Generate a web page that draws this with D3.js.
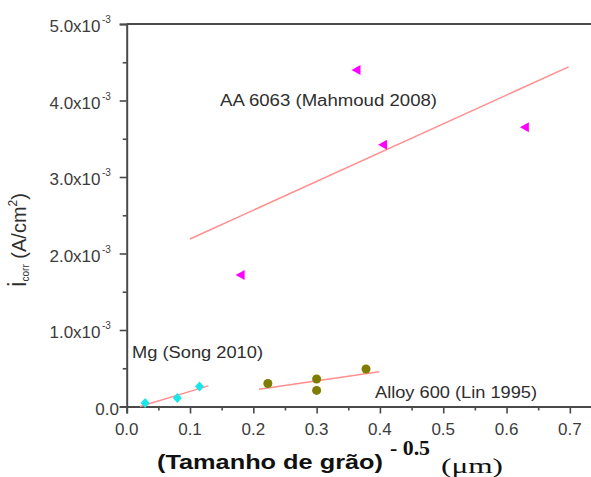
<!DOCTYPE html>
<html lang="pt">
<head>
<meta charset="UTF-8">
<title>icorr vs tamanho de grão</title>
<script src="https://d3js.org/d3.v7.min.js"></script>
<style>
  body { margin: 0; background: #fff; }
  svg { display: block; }
</style>
</head>
<body>
<div id="chart"></div>
<script>
// values
const mgX = [0.029, 0.080, 0.115];
const mgY = [0.045e-3, 0.11e-3, 0.26e-3];
const alloyX = [0.223, 0.300, 0.300, 0.378];
const alloyY = [0.30e-3, 0.36e-3, 0.21e-3, 0.49e-3];
const aaX = [0.180, 0.363, 0.405, 0.629];
const aaY = [1.72e-3, 4.40e-3, 3.42e-3, 3.65e-3];

// linear fits (end points)
const mgFitX = [0.021, 0.129], mgFitY = [0.0, 0.27e-3];
const alloyFitX = [0.209, 0.399], alloyFitY = [0.225e-3, 0.455e-3];
const aaFitX = [0.100, 0.698], aaFitY = [2.19e-3, 4.44e-3];

const xTicks = [0, 0.1, 0.2, 0.3, 0.4, 0.5, 0.6, 0.7];
const xTickLabels = ["0.0", "0.1", "0.2", "0.3", "0.4", "0.5", "0.6", "0.7"];
const yTicks = [0, 1e-3, 2e-3, 3e-3, 4e-3, 5e-3];
const yTickLabels = ["0.0", "1.0x10", "2.0x10", "3.0x10", "4.0x10", "5.0x10"];

const W = 591, H = 477;
const svg = d3.select("#chart").append("svg").attr("width", W).attr("height", H);

const x = d3.scaleLinear().domain([0, 0.75]).range([126.7, 601.5]);
const y = d3.scaleLinear().domain([0, 5e-3]).range([406.5, 24]);

const axisColor = "#4a4a4a";
const textColor = "#3c3c3c";

// frame: left, bottom, top
svg.append("line").attr("x1", x(0)).attr("x2", W + 5).attr("y1", y(5e-3)).attr("y2", y(5e-3))
  .attr("stroke", axisColor).attr("stroke-width", 2);

const xAxis = svg.append("g").attr("transform", `translate(0,${y(0)})`)
  .call(d3.axisBottom(x).tickValues(d3.range(0, 0.751, 0.05)).tickSize(7).tickFormat(""));
const yAxis = svg.append("g").attr("transform", `translate(${x(0)},0)`)
  .call(d3.axisLeft(y).tickValues(d3.range(0, 5.01e-3, 0.5e-3)).tickSize(7).tickFormat(""));

[xAxis, yAxis].forEach(a => {
  a.select(".domain").attr("stroke", axisColor).attr("stroke-width", 2);
  a.selectAll(".tick line").attr("stroke", axisColor).attr("stroke-width", 1.6);
});
// minor ticks shorter
xAxis.selectAll(".tick line").filter(d => Math.round(d * 20) % 2 === 1).attr("y2", 4);
yAxis.selectAll(".tick line").filter(d => Math.round(d * 2000) % 2 === 1).attr("x2", -4);

// tick labels
svg.append("g").selectAll("text").data(xTicks).join("text")
  .attr("x", d => x(d)).attr("y", 435)
  .attr("text-anchor", "middle")
  .attr("font-family", "Liberation Sans, Arial, sans-serif")
  .attr("font-size", 17).attr("fill", textColor)
  .text((d, i) => xTickLabels[i]);

const yl = svg.append("g").selectAll("text").data(yTicks).join("text")
  .attr("x", d => d === 0 ? 119 : 100.5).attr("y", d => y(d) + 8)
  .attr("text-anchor", "end")
  .attr("font-family", "Liberation Sans, Arial, sans-serif")
  .attr("font-size", 17).attr("fill", textColor);
yl.append("tspan").text((d, i) => yTickLabels[i]);
yl.filter(d => d !== 0).append("tspan")
  .attr("x", 102).attr("dy", -9).attr("text-anchor", "start")
  .attr("font-size", 10).text("-3");

// fit lines
const fitLine = d3.line().x(d => x(d[0])).y(d => y(d[1]));
[[mgFitX, mgFitY], [alloyFitX, alloyFitY], [aaFitX, aaFitY]].forEach(([fx, fy]) => {
  svg.append("path").datum(d3.zip(fx, fy)).attr("d", fitLine)
    .attr("fill", "none").attr("stroke", "#ff8f8f").attr("stroke-width", 1.5);
});

// markers
svg.append("g").selectAll("path").data(d3.zip(aaX, aaY)).join("path")
  .attr("d", "M-5,0L4,-5L4,5Z")
  .attr("transform", d => `translate(${x(d[0])},${y(d[1])})`)
  .attr("fill", "#ff00ff");

svg.append("g").selectAll("path").data(d3.zip(mgX, mgY)).join("path")
  .attr("d", "M0,-5L4.5,0L0,5L-4.5,0Z")
  .attr("transform", d => `translate(${x(d[0])},${y(d[1])})`)
  .attr("fill", "#19e6e6");

svg.append("g").selectAll("circle").data(d3.zip(alloyX, alloyY)).join("circle")
  .attr("cx", d => x(d[0])).attr("cy", d => y(d[1])).attr("r", 4.5)
  .attr("fill", "#7f7d00");

// annotations
const ann = [
  { t: "AA 6063 (Mahmoud 2008)", x: 220, y: 106, w: 217 },
  { t: "Mg (Song 2010)", x: 132, y: 358, w: 131 },
  { t: "Alloy 600 (Lin 1995)", x: 375, y: 398, w: 162 }
];
svg.append("g").selectAll("text").data(ann).join("text")
  .attr("x", d => d.x).attr("y", d => d.y)
  .attr("font-family", "Liberation Sans, Arial, sans-serif")
  .attr("font-size", 16).attr("fill", "#2e2e2e")
  .attr("textLength", d => d.w).attr("lengthAdjust", "spacingAndGlyphs")
  .text(d => d.t);

// x axis title
svg.append("text").attr("x", 157).attr("y", 469)
  .attr("font-family", "Liberation Sans, Arial, sans-serif").attr("font-weight", "bold")
  .attr("font-size", 21).attr("fill", "#111")
  .attr("textLength", 226).attr("lengthAdjust", "spacingAndGlyphs")
  .text("(Tamanho de grão)");
svg.append("text").attr("x", 390).attr("y", 455)
  .attr("font-family", "Liberation Serif, Times New Roman, serif").attr("font-weight", "bold")
  .attr("font-size", 20).attr("fill", "#111")
  .attr("textLength", 40).attr("lengthAdjust", "spacingAndGlyphs")
  .text("- 0.5");
svg.append("text").attr("x", 441).attr("y", 473)
  .attr("font-family", "Liberation Serif, Times New Roman, serif")
  .attr("font-size", 22).attr("fill", "#111")
  .attr("textLength", 62).attr("lengthAdjust", "spacingAndGlyphs")
  .text("(μm)");

// y axis title
const yt = svg.append("text").attr("transform", "translate(26,287) rotate(-90)")
  .attr("font-family", "Liberation Sans, Arial, sans-serif")
  .attr("font-size", 20).attr("fill", "#2e2e2e");
yt.append("tspan").attr("font-size", 25).text("i");
yt.append("tspan").attr("font-size", 10).attr("dy", 3).text("corr");
yt.append("tspan").attr("dy", -3).text(" (A/cm");
yt.append("tspan").attr("font-size", 12).attr("dy", -9).text("2");
yt.append("tspan").attr("dy", 9).text(")");
</script>
</body>
</html>
